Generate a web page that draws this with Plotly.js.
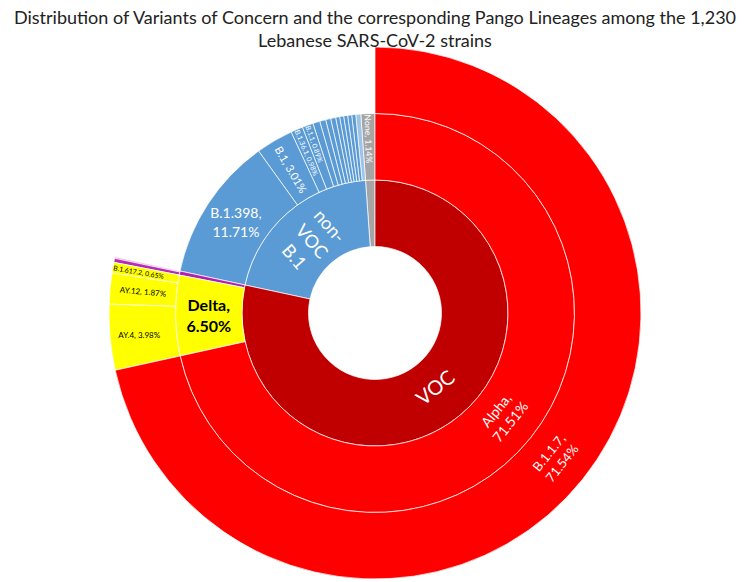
<!DOCTYPE html>
<html>
<head>
<meta charset="utf-8">
<script src="https://cdn.plot.ly/plotly-3.0.1.min.js"></script>
<style>html,body{margin:0;padding:0;background:#fff;}#chart{width:750px;height:582px;}</style>
</head>
<body>
<div id="chart"></div>
<script>
// Hierarchy listed counter-clockwise from 12 o'clock (Plotly draws counter-clockwise),
// counts out of 1,230 strains
const ids = ["root",
  "NoneL1","NoneL2",
  "nonVOC","B.1.1.318","B.1.1.28","B.1.1.1","B.1.258","B.1.221","B.1.525","B.1.160","B.1.36","B.1.1.420","B.1.177","B.1.1","B.1.36.1","B.1","B.1.398",
  "VOC","Beta","B.1.351.3","B.1.351","Delta","B.1.617.2","AY.12","AY.4","Alpha","B.1.1.7"];
const labels = ["",
  "None","None",
  "non-VOC B.1","B.1.1.318","B.1.1.28","B.1.1.1","B.1.258","B.1.221","B.1.525","B.1.160","B.1.36","B.1.1.420","B.1.177","B.1.1","B.1.36.1","B.1","B.1.398",
  "VOC","Beta","B.1.351.3","B.1.351","Delta","B.1.617.2","AY.12","AY.4","Alpha","B.1.1.7"];
const parents = ["",
  "root","NoneL1",
  "root","nonVOC","nonVOC","nonVOC","nonVOC","nonVOC","nonVOC","nonVOC","nonVOC","nonVOC","nonVOC","nonVOC","nonVOC","nonVOC","nonVOC",
  "root","VOC","Beta","Beta","VOC","Delta","Delta","Delta","VOC","Alpha"];
const values = [1230,
  14,14,
  252,5,4,4,4,4,4,5,5,6,7,11,12,37,144,
  964,4,1,3,80,8,23,49,880,880];
const sliceText = ["",
  "","None, 1.14%",
  "non-<br>VOC<br>B.1","","","","","","","","","","","B.1.1, 0.89%","B.1.36.1, 0.98%","B.1, 3.01%","B.1.398,<br>11.71%",
  "VOC","","","","<b>Delta,<br>6.50%</b>","B.1.617.2, 0.65%","AY.12, 1.87%","AY.4, 3.98%","Alpha,<br>71.51%","B.1.1.7,<br>71.54%"];
const sliceColors = ["#ffffff",
  "#a5a5a5","#a5a5a5",
  "#5b9bd5","#9dc3e6","#5b9bd5","#5b9bd5","#5b9bd5","#5b9bd5","#5b9bd5","#5b9bd5","#5b9bd5","#5b9bd5","#5b9bd5","#5b9bd5","#5b9bd5","#5b9bd5","#5b9bd5",
  "#c00000","#b020b0","#d68ad6","#b52db5","#ffff00","#ffff00","#ffff00","#ffff00","#ff0000","#ff0000"];
const textColors = ["#fff",
  "#fff","#fff",
  "#fff","#fff","#fff","#fff","#fff","#fff","#fff","#fff","#fff","#fff","#fff","#fff","#fff","#fff","#fff",
  "#fff","#fff","#fff","#fff","#000","#000","#000","#000","#fff","#fff"];
const textSizes = [10,
  9,10,
  18,6,6,6,6,6,6,6,6,6,6,8,8,11,14,
  20,6,6,6,16,8,8,8,14,13];

const trace = {
  type: "sunburst",
  ids: ids, labels: labels, parents: parents, values: values,
  branchvalues: "total",
  sort: false,
  rotation: 90,
  text: sliceText,
  textinfo: "text",
  insidetextorientation: "auto",
  leaf: {opacity: 1},
  marker: {colors: sliceColors, line: {color: "#ffffff", width: 0.7}},
  textfont: {family: "Lato, 'Open Sans', sans-serif", color: textColors, size: textSizes},
  domain: {x: [0, 1], y: [3/582, 535/582]},
  hoverinfo: "label+value"
};
const layout = {
  width: 750, height: 582,
  margin: {l: 0, r: 0, t: 0, b: 0},
  paper_bgcolor: "#ffffff",
  title: {
    text: "Distribution of Variants of Concern and the corresponding Pango Lineages among the 1,230<br>Lebanese SARS-CoV-2 strains",
    font: {family: "Lato, 'Open Sans', sans-serif", size: 18, color: "#222222"},
    x: 0.5, xanchor: "center", xref: "paper", y: 1 - 24/582, yanchor: "middle", yref: "container"
  },
  showlegend: false
};
Plotly.newPlot("chart", [trace], layout, {displayModeBar: false, staticPlot: true});
</script>
</body>
</html>
